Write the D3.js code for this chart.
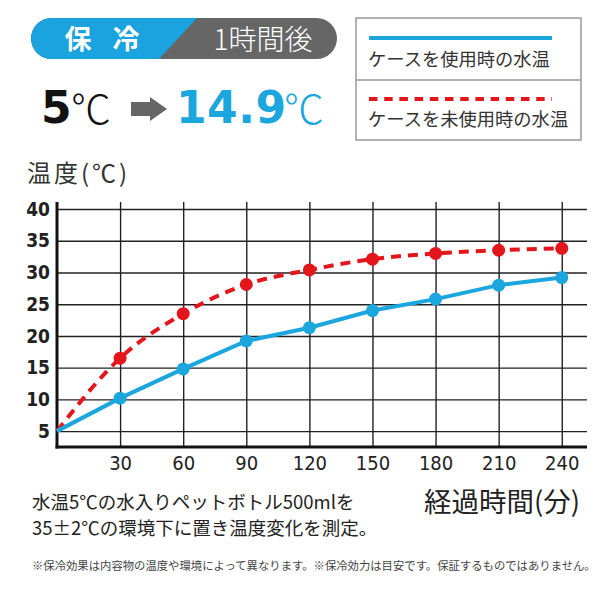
<!DOCTYPE html>
<html>
<head>
<meta charset="utf-8">
<script src="https://cdn.jsdelivr.net/npm/d3@7"></script>
<style>
  body { margin: 0; background: #fff; }
  svg { display: block; }
  .jp { font-family: "Noto Sans CJK JP", "Noto Sans", sans-serif; }
  .num { font-family: "Liberation Sans Narrow", "DejaVu Sans Condensed", "Roboto", sans-serif; }
</style>
</head>
<body>
<div id="chart"></div>
<script>
// data
const minutes = [0, 30, 60, 90, 120, 150, 180, 210, 240];
const withCase = [5, 10.2, 14.8, 19.2, 21.3, 24.0, 25.8, 28.0, 29.2];
const withoutCase = [5, 16.5, 23.5, 28.1, 30.4, 32.1, 33.0, 33.5, 33.8];
const yTicks = [5, 10, 15, 20, 25, 30, 35, 40];
const xTicks = [30, 60, 90, 120, 150, 180, 210, 240];
const legendLabels = ["ケースを使用時の水温", "ケースを未使用時の水温"];

const BLUE = "#1ba6de";
const RED = "#e3161c";

const width = 600, height = 600;
const plotLeft = 57, plotRight = 587, plotTop = 209, plotBottom = 447, gridTop = 202;

const svg = d3.select("#chart").append("svg")
    .attr("width", width)
    .attr("height", height);

const x = d3.scaleLinear().domain([0, 252]).range([plotLeft, plotRight]);
const y = d3.scaleLinear().domain([2.5, 40]).range([plotBottom, plotTop]);

// header pill
const pill = svg.append("g");
pill.append("rect")
    .attr("x", 31).attr("y", 18).attr("width", 306).attr("height", 41)
    .attr("rx", 20.5).attr("fill", "#666");
pill.append("clipPath").attr("id", "pillclip")
    .append("rect")
    .attr("x", 31).attr("y", 18).attr("width", 306).attr("height", 41)
    .attr("rx", 20.5);
pill.append("path")
    .attr("d", "M20,18 L197,18 L159,59 L20,59 Z")
    .attr("fill", "#1aa3df")
    .attr("clip-path", "url(#pillclip)");
pill.selectAll("text.tag")
    .data(["保", "冷"])
    .enter().append("text")
    .attr("class", "jp tag")
    .attr("x", (d, i) => i === 0 ? 78 : 126)
    .attr("y", 49).attr("text-anchor", "middle")
    .attr("fill", "#fff").attr("font-size", 27).attr("font-weight", 700)
    .text(d => d);
pill.append("text").attr("class", "jp")
    .attr("x", 263).attr("y", 50).attr("text-anchor", "middle")
    .attr("fill", "#fff").attr("font-size", 28).attr("font-weight", 300)
    .text("1時間後");

// 5℃ -> 14.9℃
const big = svg.append("g").attr("font-family", "'DejaVu Sans', sans-serif");
big.append("text").attr("x", 41).attr("y", 123)
    .attr("font-size", 44).attr("font-weight", 700).attr("fill", "#111")
    .text("5");
big.append("text").attr("class", "jp").attr("x", 71).attr("y", 124)
    .attr("font-size", 40).attr("font-weight", 300).attr("fill", "#111")
    .text("℃");
big.append("path")
    .attr("d", "M131,102 L150,102 L150,97 L167,109 L150,121 L150,116 L131,116 Z")
    .attr("fill", "#666");
big.append("text").attr("x", 176).attr("y", 123)
    .attr("font-size", 44).attr("font-weight", 700).attr("fill", BLUE)
    .attr("letter-spacing", 0.5)
    .text("14.9");
big.append("text").attr("class", "jp").attr("x", 284).attr("y", 124)
    .attr("font-size", 40).attr("font-weight", 300).attr("fill", BLUE)
    .text("℃");

// y title
svg.append("text").attr("class", "jp")
    .attr("x", 27).attr("y", 182)
    .attr("font-size", 24).attr("fill", "#333")
    .attr("letter-spacing", 3)
    .text("温度(℃)");

// legend box
const legend = svg.append("g");
legend.append("rect")
    .attr("x", 356).attr("y", 18).attr("width", 225).attr("height", 122)
    .attr("fill", "#fff").attr("stroke", "#999").attr("stroke-width", 1.5);
legend.append("line")
    .attr("x1", 356).attr("x2", 581).attr("y1", 80).attr("y2", 80)
    .attr("stroke", "#999").attr("stroke-width", 1.5);
legend.append("line")
    .attr("x1", 369).attr("x2", 552).attr("y1", 38).attr("y2", 38)
    .attr("stroke", BLUE).attr("stroke-width", 4);
legend.append("line")
    .attr("x1", 369).attr("x2", 552).attr("y1", 99).attr("y2", 99)
    .attr("stroke", RED).attr("stroke-width", 4)
    .attr("stroke-dasharray", "8.5,6.7");
legend.selectAll("text.leg")
    .data(legendLabels)
    .enter().append("text")
    .attr("class", "jp leg")
    .attr("x", 368)
    .attr("y", (d, i) => i === 0 ? 66 : 126)
    .attr("font-size", 18.3).attr("fill", "#333")
    .text(d => d);

// grid + axes
const yAxis = d3.axisLeft(y)
    .tickValues(yTicks)
    .tickSize(-(plotRight - plotLeft))
    .tickPadding(7);
const gy = svg.append("g")
    .attr("transform", `translate(${plotLeft},0)`)
    .call(yAxis);
gy.select(".domain").remove();
gy.selectAll(".tick line").attr("stroke", "#222").attr("stroke-width", 1.4);
gy.selectAll(".tick text")
    .attr("class", "num")
    .attr("font-size", 19).attr("font-weight", 700).attr("fill", "#222");

const xAxis = d3.axisBottom(x)
    .tickValues(xTicks)
    .tickSize(-(plotBottom - gridTop))
    .tickPadding(9);
const gx = svg.append("g")
    .attr("transform", `translate(0,${plotBottom})`)
    .call(xAxis);
gx.select(".domain").remove();
gx.selectAll(".tick line").attr("stroke", "#222").attr("stroke-width", 1.4);
gx.selectAll(".tick text")
    .attr("class", "num")
    .attr("font-size", 20).attr("fill", "#222");

svg.append("line")
    .attr("x1", plotLeft).attr("x2", plotLeft).attr("y1", gridTop).attr("y2", plotBottom + 1.5)
    .attr("stroke", "#111").attr("stroke-width", 3);
svg.append("line")
    .attr("x1", plotLeft - 1.5).attr("x2", plotRight).attr("y1", plotBottom).attr("y2", plotBottom)
    .attr("stroke", "#111").attr("stroke-width", 3);

// series
const blueRows = minutes.map((m, i) => ({ m: m, v: withCase[i] }));
const redRows = minutes.map((m, i) => ({ m: m, v: withoutCase[i] }));

const blueLine = d3.line().x(d => x(d.m)).y(d => y(d.v));
const redLine = d3.line().x(d => x(d.m)).y(d => y(d.v)).curve(d3.curveMonotoneX);

svg.append("path")
    .datum(redRows)
    .attr("d", redLine)
    .attr("fill", "none").attr("stroke", RED).attr("stroke-width", 4)
    .attr("stroke-dasharray", "10,7");
svg.append("path")
    .datum(blueRows)
    .attr("d", blueLine)
    .attr("fill", "none").attr("stroke", BLUE).attr("stroke-width", 4);

svg.append("g").selectAll("circle")
    .data(redRows.slice(1))
    .enter().append("circle")
    .attr("cx", d => x(d.m)).attr("cy", d => y(d.v))
    .attr("r", 6.5).attr("fill", RED);
svg.append("g").selectAll("circle")
    .data(blueRows.slice(1))
    .enter().append("circle")
    .attr("cx", d => x(d.m)).attr("cy", d => y(d.v))
    .attr("r", 6.5).attr("fill", BLUE);

// x title and notes
svg.append("text").attr("class", "jp")
    .attr("x", 424).attr("y", 512)
    .attr("font-size", 27.5).attr("fill", "#222")
    .text("経過時間(分)");
svg.append("text").attr("class", "jp")
    .attr("x", 32).attr("y", 509)
    .attr("font-size", 18.5).attr("fill", "#222")
    .text("水温5℃の水入りペットボトル500mlを");
svg.append("text").attr("class", "jp")
    .attr("x", 32).attr("y", 535)
    .attr("font-size", 18.5).attr("fill", "#222")
    .text("35±2℃の環境下に置き温度変化を測定。");
svg.append("text").attr("class", "jp")
    .attr("x", 32).attr("y", 570)
    .attr("font-size", 11.35).attr("fill", "#444")
    .text("※保冷効果は内容物の温度や環境によって異なります。※保冷効力は目安です。保証するものではありません。");
</script>
</body>
</html>
